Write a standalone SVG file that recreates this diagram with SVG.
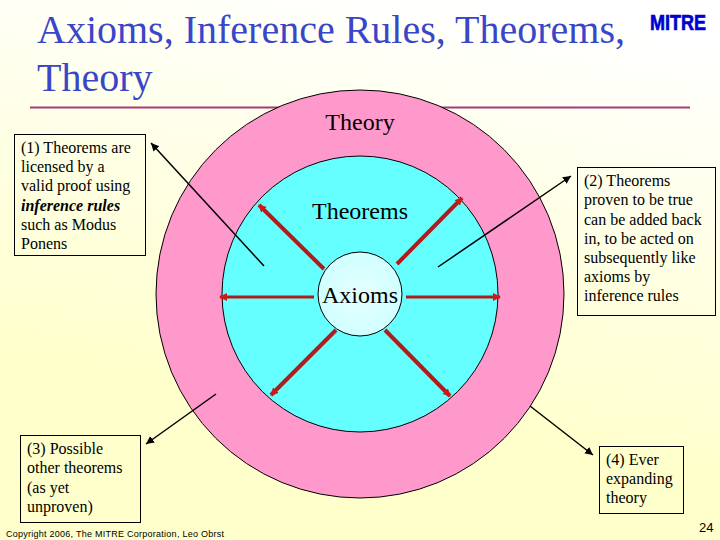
<svg xmlns="http://www.w3.org/2000/svg" width="720" height="540" viewBox="0 0 720 540">
<style>
.s{font-family:"Liberation Serif","Times New Roman",serif;fill:#000}
.box{font-size:16px}
.c{font-size:24px;text-anchor:middle}
.t{font-family:"Liberation Serif","Times New Roman",serif;font-size:40px;fill:#3a46c8}
.b{fill:none;stroke:#000;stroke-width:1}
.red{stroke:#b01c1c;stroke-width:4;fill:none;marker-end:url(#rh)}
.thin{stroke-width:3}
.blk{stroke:#000;stroke-width:1.5;fill:none;marker-end:url(#bh)}
.f{font-family:"Liberation Sans",Arial,sans-serif}
</style>
<defs>
<linearGradient id="bg" x1="0.62" y1="0" x2="0.38" y2="1">
<stop offset="0" stop-color="#ffffff"/><stop offset="0.75" stop-color="#ffffcc"/><stop offset="1" stop-color="#ffffcc"/>
</linearGradient>
<radialGradient id="ax" cx="0.5" cy="0.5" r="0.6"><stop offset="0" stop-color="#e6ffff"/><stop offset="1" stop-color="#ccffff"/></radialGradient>
<marker id="rh" markerUnits="userSpaceOnUse" markerWidth="10" markerHeight="10" refX="7" refY="4" orient="auto"><path d="M0 0L8 4L0 8z" fill="#d01818"/></marker>
<marker id="bh" markerUnits="userSpaceOnUse" markerWidth="10" markerHeight="10" refX="8" refY="4" orient="auto"><path d="M0 0L8 4L0 8z" fill="#000"/></marker>
</defs>
<rect width="720" height="540" fill="url(#bg)"/>
<text class="t" x="37" y="43">Axioms, Inference Rules, Theorems,</text>
<text class="t" x="37" y="91">Theory</text>
<g id="logo"><text x="650" y="30" font-family="Liberation Sans,Arial,sans-serif" font-size="22" font-weight="bold" fill="#0000d0" stroke="#0000d0" stroke-width="0.7" textLength="56" lengthAdjust="spacingAndGlyphs">MITRE</text></g>
<line x1="30" y1="107.500" x2="690" y2="107.500" stroke="#a83a78" stroke-width="2"/>
<g id="theory"><circle cx="360" cy="294" r="204" fill="#ff99cc" stroke="#000"/><text class="s c" x="360" y="130">Theory</text></g>
<g id="theorems"><circle cx="360" cy="294" r="138" fill="#66ffff" stroke="#000"/><text class="s c" x="360" y="219">Theorems</text></g>
<g id="axioms"><circle cx="360" cy="294" r="42" fill="url(#ax)" stroke="#000"/><text class="s c" x="360" y="303">Axioms</text></g>
<g id="connectors">
<line class="red" x1="324" y1="269" x2="259" y2="205"/>
<line class="red" x1="397" y1="264" x2="462" y2="198"/>
<line class="red thin" x1="314" y1="297" x2="220" y2="297"/>
<line class="red thin" x1="406" y1="297" x2="500" y2="297"/>
<line class="red" x1="336" y1="330" x2="271" y2="395"/>
<line class="red" x1="385" y1="330" x2="450" y2="396"/>
<line class="blk" x1="264" y1="266" x2="151" y2="143"/>
<line class="blk" x1="438" y1="267" x2="571" y2="176"/>
<line class="blk" x1="216" y1="394" x2="146" y2="444"/>
<line class="blk" x1="530" y1="406" x2="593" y2="455"/>
</g>
<g id="note1"><rect class="b" x="14.500" y="134.500" width="131" height="121" fill="#fffff5"/>
<text class="s box" x="21" y="153">(1) Theorems are</text><text class="s box" x="21" y="172">licensed by a</text><text class="s box" x="21" y="191">valid proof using</text><text class="s box" x="21" y="211" font-weight="bold" font-style="italic">inference rules</text><text class="s box" x="21" y="230">such as Modus</text><text class="s box" x="21" y="249">Ponens</text></g>
<g id="note2"><rect class="b" x="577.500" y="167.500" width="138" height="148" fill="#fffff0"/>
<text class="s box" x="584" y="186">(2) Theorems</text><text class="s box" x="584" y="205">proven to be true</text><text class="s box" x="584" y="225">can be added back</text><text class="s box" x="584" y="244">in, to be acted on</text><text class="s box" x="584" y="263">subsequently like</text><text class="s box" x="584" y="282">axioms by</text><text class="s box" x="584" y="301">inference rules</text></g>
<g id="note3"><rect class="b" x="20.500" y="435.500" width="120" height="87" fill="#ffffcc"/>
<text class="s box" x="27" y="454">(3) Possible</text><text class="s box" x="27" y="473">other theorems</text><text class="s box" x="27" y="493">(as yet</text><text class="s box" x="27" y="512">unproven)</text></g>
<g id="note4"><rect class="b" x="599.500" y="446.500" width="84" height="67" fill="#ffffcc"/>
<text class="s box" x="606" y="465">(4) Ever</text><text class="s box" x="606" y="484">expanding</text><text class="s box" x="606" y="503">theory</text></g>
<text class="f" x="6" y="537" font-size="9" textLength="218">Copyright 2006, The MITRE Corporation, Leo Obrst</text>
<text class="f" x="699" y="532" font-size="13">24</text>
</svg>
